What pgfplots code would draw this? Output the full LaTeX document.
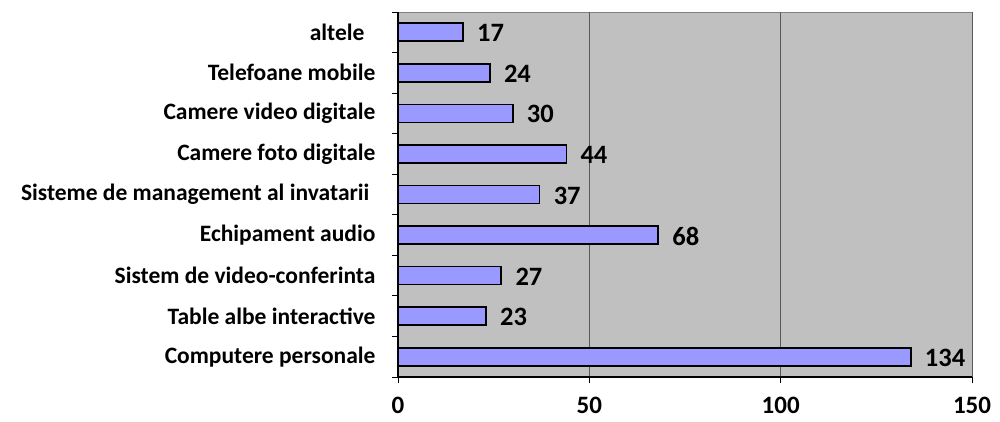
\documentclass[border=0pt]{standalone}
\usepackage{pgfplots}
\pgfplotsset{compat=1.18}
\usepackage{fontspec}
\setmainfont{Carlito}
\definecolor{barfill}{HTML}{9999FF}
\definecolor{plotbg}{HTML}{C0C0C0}
\begin{document}
\begin{tikzpicture}[x=1pt,y=1pt]
\path (0,0) rectangle (1000,421);
\begin{axis}[
  at={(398pt,44pt)}, anchor=south west,
  scale only axis, width=574pt, height=365pt,
  xbar, bar width=18pt,
  xmin=0, xmax=150, ymin=-0.5, ymax=8.5,
  axis x line*=bottom, axis y line*=left,
  axis line style={black, line width=1.4pt},
  axis background/.style={fill=plotbg, draw=black!50, line width=0.8pt},
  xtick={0,50,100,150},
  ytick={0,...,8},
  yticklabels={Computere personale,Table albe interactive,Sistem de video-conferinta,Echipament audio,{Sisteme de management al invatarii\makebox[6pt]{}},Camere foto digitale,Camere video digitale,Telefoane mobile,{altele\makebox[11pt]{}}},
  minor ytick={-0.5,0.5,...,8.5},
  tick align=outside,
  major tick length=6pt, minor tick length=6pt,
  every major y tick/.style={draw=none},
  tick style={black, line width=0.8pt},
  xmajorgrids, major grid style={draw=black!65, line width=0.8pt},
  /pgf/number format/assume math mode=true,
  xticklabel style={font=\bfseries\fontsize{25}{25}\selectfont, yshift=-11pt},
  yticklabel style={font=\bfseries\fontsize{23.5}{23.5}\selectfont, xshift=-13pt},
  nodes near coords,
  nodes near coords style={font=\bfseries\fontsize{26.5}{26.5}\selectfont, anchor=west, xshift=10pt, yshift=-1pt, /pgf/number format/assume math mode=true},
]
\addplot[fill=barfill, draw=black, line width=1.7pt] coordinates {
  (134,0) (23,1) (27,2) (68,3) (37,4) (44,5) (30,6) (24,7) (17,8)
};
\end{axis}
\end{tikzpicture}
\end{document}
